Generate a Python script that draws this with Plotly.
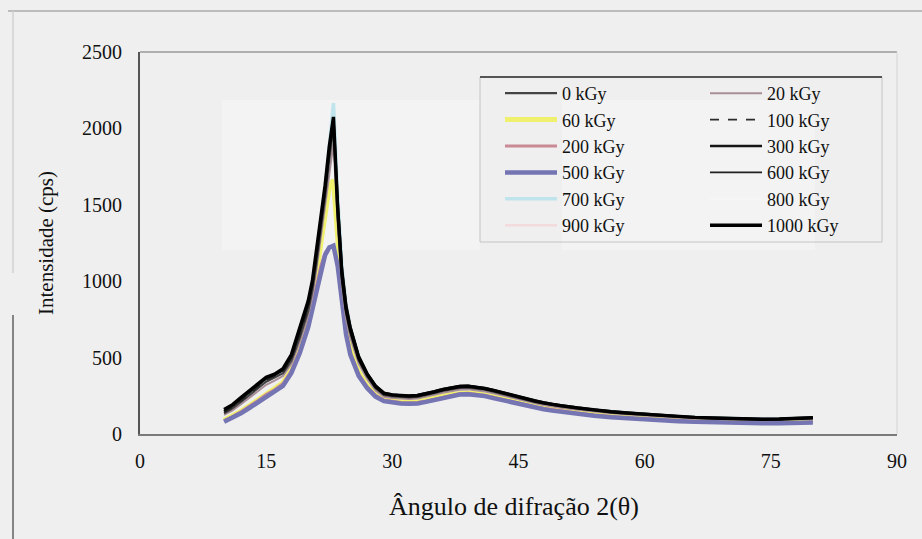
import plotly.graph_objects as go

# Diffraction angle grid (2θ, degrees)
theta = [10, 11, 12, 13, 14, 15, 16, 17, 18, 19, 20, 20.5, 21, 21.5, 22, 22.5, 23, 23.5, 24, 24.5,
         25, 26, 27, 28, 29, 30, 31, 32, 33, 34, 35, 36, 37, 38, 39, 40, 41, 42, 43, 44,
         45, 46, 47, 48, 49, 50, 52, 54, 56, 58, 60, 62, 64, 66, 68, 70, 72, 74, 76, 78, 80]

# Intensity (cps) for each irradiation dose
i_0 = [135, 168, 210, 252, 298, 342, 370, 398, 480, 630, 805, 940, 1125, 1330, 1545, 1790, 2000, 1430, 1010, 790,
       662, 482, 378, 300, 256, 246, 241, 240, 243, 253, 267, 282, 294, 302, 304, 299, 290, 277, 263, 248,
       235, 222, 209, 198, 188, 180, 166, 153, 142, 133, 125, 118, 112, 106, 102, 98, 95, 94, 95, 98, 103]
i_20 = [125, 155, 195, 238, 280, 322, 350, 380, 460, 605, 775, 905, 1085, 1285, 1490, 1720, 1900, 1380, 970, 755,
        630, 460, 360, 285, 244, 235, 230, 229, 232, 242, 256, 270, 282, 290, 292, 287, 278, 266, 252, 238,
        225, 213, 201, 190, 180, 172, 159, 147, 136, 128, 120, 113, 107, 102, 98, 94, 91, 90, 91, 94, 99]
i_60 = [90, 116, 148, 184, 222, 262, 294, 335, 420, 560, 740, 880, 1050, 1250, 1450, 1620, 1662, 1300, 930, 700,
        560, 405, 318, 258, 225, 214, 209, 207, 209, 219, 231, 247, 259, 267, 269, 265, 257, 244, 231, 217,
        205, 193, 181, 171, 162, 154, 140, 128, 118, 110, 103, 97, 92, 87, 83, 80, 78, 77, 77, 79, 82]
i_100 = [140, 172, 215, 260, 305, 350, 378, 405, 490, 645, 825, 960, 1150, 1360, 1580, 1830, 2040, 1470, 1040, 810,
         680, 495, 388, 308, 262, 252, 247, 246, 249, 259, 273, 288, 300, 308, 310, 305, 296, 283, 269, 254,
         240, 227, 214, 202, 192, 184, 169, 156, 145, 136, 128, 120, 114, 108, 104, 100, 97, 96, 97, 100, 105]
i_200 = [88, 114, 146, 180, 218, 258, 290, 330, 415, 548, 720, 845, 985, 1100, 1185, 1225, 1228, 1110, 870, 668,
         535, 392, 310, 254, 222, 212, 206, 204, 206, 216, 228, 244, 256, 264, 266, 262, 254, 241, 228, 214,
         202, 190, 178, 168, 159, 150, 137, 124, 114, 106, 99, 93, 88, 83, 79, 76, 74, 73, 73, 75, 78]
i_300 = [150, 185, 230, 276, 320, 365, 388, 420, 505, 670, 850, 990, 1180, 1390, 1610, 1860, 2060, 1520, 1090, 850,
         705, 512, 398, 318, 270, 258, 252, 250, 255, 265, 280, 295, 306, 314, 316, 310, 300, 288, 273, 258,
         244, 230, 218, 206, 196, 188, 173, 159, 148, 139, 131, 123, 116, 110, 106, 102, 99, 98, 99, 102, 108]
i_500 = [80, 105, 135, 170, 205, 245, 275, 315, 400, 530, 700, 820, 960, 1080, 1170, 1220, 1232, 1100, 850, 650,
         520, 380, 300, 245, 215, 205, 200, 198, 200, 210, 222, 238, 250, 258, 260, 256, 248, 235, 222, 208,
         196, 184, 172, 162, 153, 145, 132, 120, 110, 102, 95, 89, 84, 80, 76, 73, 71, 70, 70, 72, 75]
i_600 = [148, 180, 225, 270, 315, 360, 385, 415, 500, 660, 840, 975, 1165, 1375, 1590, 1840, 2030, 1450, 1020, 800,
         672, 488, 385, 305, 262, 252, 246, 245, 248, 258, 272, 287, 299, 307, 309, 304, 295, 282, 268, 253,
         239, 226, 213, 201, 191, 183, 168, 155, 144, 135, 127, 119, 113, 107, 103, 99, 96, 95, 96, 99, 104]
i_700 = [145, 178, 222, 266, 312, 356, 382, 412, 495, 655, 835, 975, 1170, 1385, 1610, 1880, 2165, 1560, 1100, 840,
         698, 505, 392, 310, 264, 254, 248, 247, 250, 260, 274, 289, 301, 309, 311, 306, 297, 284, 270, 255,
         241, 228, 215, 203, 193, 185, 170, 156, 145, 136, 128, 120, 113, 108, 104, 100, 97, 96, 97, 100, 105]
i_800 = [78, 102, 132, 167, 202, 242, 272, 311, 396, 525, 695, 814, 954, 1074, 1165, 1216, 1228, 1095, 845, 645,
         516, 377, 297, 242, 213, 203, 198, 196, 198, 208, 220, 236, 248, 256, 258, 254, 246, 233, 220, 206,
         194, 182, 170, 160, 151, 143, 130, 118, 108, 100, 93, 87, 82, 78, 74, 71, 69, 68, 68, 70, 73]
i_900 = [84, 108, 140, 175, 212, 250, 282, 322, 408, 540, 710, 832, 972, 1090, 1178, 1222, 1230, 1105, 860, 660,
         528, 386, 305, 250, 218, 208, 203, 201, 203, 213, 225, 241, 253, 261, 263, 259, 251, 238, 225, 211,
         199, 187, 175, 165, 156, 147, 134, 122, 112, 104, 97, 91, 86, 81, 77, 74, 72, 71, 71, 73, 76]
i_1000 = [160, 192, 238, 282, 328, 372, 392, 428, 520, 690, 872, 1005, 1200, 1405, 1625, 1880, 2075, 1480, 1050, 820,
          690, 500, 392, 312, 266, 256, 250, 249, 252, 262, 276, 291, 303, 311, 313, 308, 298, 286, 271, 256,
          242, 229, 216, 204, 194, 186, 171, 157, 146, 137, 129, 121, 114, 109, 105, 101, 98, 97, 98, 101, 106]

x_ticks = [0, 15, 30, 45, 60, 75, 90]
y_ticks = [0, 500, 1000, 1500, 2000, 2500]

# (label, values, colour, width, dash, legend column, rank) in drawing order: light curves underneath
series = [
    ("800 kGy", i_800, "#f6f6f6", 2.0, "solid", "legend2", 5),
    ("900 kGy", i_900, "#f2dadd", 2.5, "solid", "legend", 6),
    ("700 kGy", i_700, "#bfe4ec", 3.5, "solid", "legend", 5),
    ("60 kGy", i_60, "#eef06e", 5.0, "solid", "legend", 2),
    ("200 kGy", i_200, "#c98a96", 3.0, "solid", "legend", 3),
    ("500 kGy", i_500, "#7575b4", 4.5, "solid", "legend", 4),
    ("20 kGy", i_20, "#a88e96", 2.0, "solid", "legend2", 1),
    ("0 kGy", i_0, "#444444", 2.2, "solid", "legend", 1),
    ("100 kGy", i_100, "#2c2c2c", 1.8, "dash", "legend2", 2),
    ("300 kGy", i_300, "#151515", 2.6, "solid", "legend2", 3),
    ("600 kGy", i_600, "#202020", 1.6, "solid", "legend2", 4),
    ("1000 kGy", i_1000, "#000000", 3.4, "solid", "legend2", 6),
]

W, H = 922, 539
L, R, T, B = 140, 25, 52, 105
PW, PH = W - L - R, H - T - B


def px(x):
    return (x - L) / PW


def py(y):
    return (H - B - y) / PH


fig = go.Figure()
for name, vals, color, width, dash, leg, rank in series:
    fig.add_trace(go.Scatter(
        x=theta, y=vals, mode="lines", name=name, legend=leg, legendrank=rank,
        line=dict(color=color, width=width, dash=dash),
    ))

FONT = "Liberation Serif"

shapes = [
    # whitish patches behind the peak and the legend text
    dict(type="rect", xref="paper", yref="paper", x0=px(222), x1=px(480), y0=py(250), y1=py(100),
         fillcolor="#f3f3f3", line_width=0, layer="below"),
    dict(type="rect", xref="paper", yref="paper", x0=px(562), x1=px(815), y0=py(250), y1=py(100),
         fillcolor="#f3f3f3", line_width=0, layer="below"),
    # plot-area frame: top and right
    dict(type="line", xref="paper", yref="paper", x0=0, x1=1, y0=1, y1=1,
         line=dict(color="#9a9a9a", width=1.5)),
    dict(type="line", xref="paper", yref="paper", x0=1, x1=1, y0=0, y1=1,
         line=dict(color="#d4d4d4", width=1)),
    # legend box
    dict(type="rect", xref="paper", yref="paper", x0=px(480), x1=px(882), y0=py(242), y1=py(77),
         line=dict(color="#c4c4c4", width=1), fillcolor="rgba(0,0,0,0)"),
    dict(type="line", xref="paper", yref="paper", x0=px(480), x1=px(882), y0=py(77), y1=py(77),
         line=dict(color="#555555", width=2)),
    # outer chart border
    dict(type="line", xref="paper", yref="paper", x0=px(8), x1=px(922), y0=py(11), y1=py(11),
         line=dict(color="#ababab", width=1.5)),
    dict(type="line", xref="paper", yref="paper", x0=px(13), x1=px(13), y0=py(273), y1=py(11),
         line=dict(color="#d2d2d2", width=1.5)),
    dict(type="line", xref="paper", yref="paper", x0=px(13), x1=px(13), y0=py(539), y1=py(315),
         line=dict(color="#858585", width=2)),
]

annotations = [
    dict(text="Ângulo de difração 2(θ)", xref="paper", yref="paper", x=px(514), y=py(506),
         showarrow=False, font=dict(family=FONT, size=26, color="#111111"),
         xanchor="center", yanchor="middle"),
    dict(text="Intensidade (cps)", xref="paper", yref="paper", x=px(46), y=py(243),
         showarrow=False, textangle=-90, font=dict(family=FONT, size=21, color="#111111"),
         xanchor="center", yanchor="middle"),
]

legend_common = dict(xanchor="left", yanchor="top", orientation="v", itemwidth=52,
                     bgcolor="rgba(0,0,0,0)", borderwidth=0, tracegroupgap=0,
                     font=dict(family=FONT, size=18, color="#111111"))

fig.update_layout(
    width=W, height=H,
    margin=dict(l=L, r=R, t=T, b=B),
    paper_bgcolor="#efefef", plot_bgcolor="#efefef",
    font=dict(family=FONT, size=20, color="#111111"),
    xaxis=dict(range=[0, 90], tickvals=x_ticks, showgrid=False, zeroline=False,
               showline=True, linecolor="#7a7a7a", linewidth=2, ticks="",
               tickfont=dict(family=FONT, size=20, color="#111111"), ticklabelstandoff=8),
    yaxis=dict(range=[0, 2500], tickvals=y_ticks, showgrid=False, zeroline=False,
               showline=True, linecolor="#555555", linewidth=2, ticks="",
               tickfont=dict(family=FONT, size=20, color="#111111"), ticklabelstandoff=12),
    legend=dict(x=px(500), y=py(75), **legend_common),
    legend2=dict(x=px(705), y=py(75), **legend_common),
    shapes=shapes,
    annotations=annotations,
    showlegend=True,
)

fig.write_html("out.html")
